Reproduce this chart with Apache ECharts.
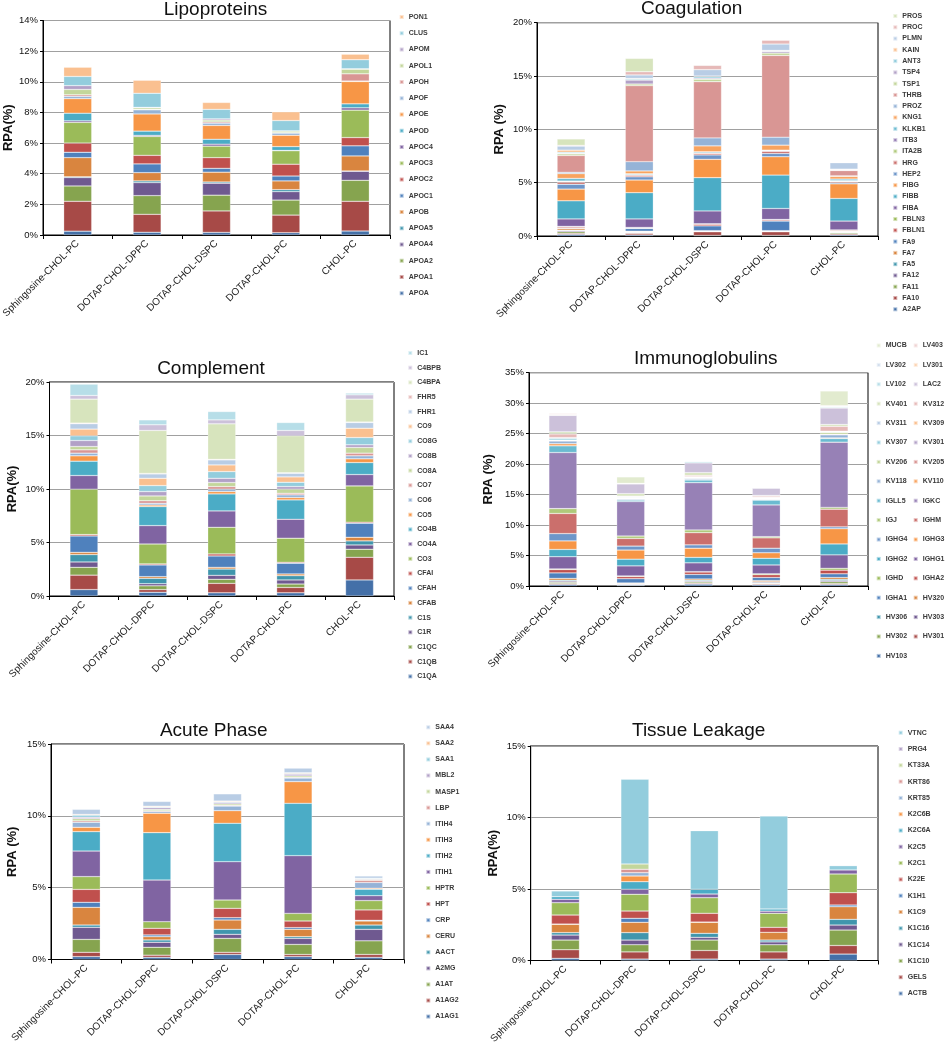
<!DOCTYPE html>
<html><head><meta charset="utf-8">
<script src="https://cdn.jsdelivr.net/npm/echarts@6/dist/echarts.min.js"></script>
<style>html,body{margin:0;padding:0;background:#fff}#c{width:949px;height:1050px}</style>
</head><body><div id="c"></div>
<script>
// ---------------- DATA ----------------
const categories = ['Sphingosine-CHOL-PC','DOTAP-CHOL-DPPC','DOTAP-CHOL-DSPC','DOTAP-CHOL-PC','CHOL-PC'];

// each row: one protein, values (% RPA) for the 5 formulations
const lipoNames = ['APOA','APOA1','APOA2','APOA4','APOA5','APOB','APOC1','APOC2','APOC3','APOC4','APOD','APOE','APOF','APOH','APOL1','APOM','CLUS','PON1'];
const lipoValues = [
  [0.25,0.18,0.17,0.15,0.26],[1.95,1.17,1.40,1.15,1.94],[1.00,1.22,1.03,0.98,1.37],[0.55,0.85,0.78,0.55,0.59],
  [0.05,0.11,0.08,0.13,0.02],[1.25,0.54,0.64,0.57,0.98],[0.35,0.57,0.25,0.32,0.66],[0.60,0.56,0.70,0.77,0.54],
  [1.35,1.23,0.75,0.88,1.79],[0.10,0.07,0.13,0.02,0.15],[0.50,0.28,0.32,0.25,0.26],[0.95,1.12,0.90,0.74,1.46],
  [0.15,0.27,0.15,0.14,0.03],[0.10,0.03,0.08,0.03,0.47],[0.35,0.10,0.12,0.10,0.30],[0.25,0.03,0.08,0.02,0.03],
  [0.60,0.92,0.62,0.67,0.59],[0.60,0.85,0.45,0.57,0.36]
];

const coagNames = ['A2AP','FA10','FA11','FA12','FA5','FA7','FA9','FBLN1','FBLN3','FIBA','FIBB','FIBG','HEP2','HRG','ITA2B','ITB3','KLKB1','KNG1','PROZ','THRB','TSP1','TSP4','ANT3','KAIN','PLMN','PROC','PROS'];
const coagValues = [
  [0.15,0.10,0.05,0.05,0.10],[0.10,0.15,0.35,0.35,0.10],[0.15,0.05,0.02,0.02,0.10],[0.10,0.05,0.03,0.03,0.05],
  [0.05,0.05,0.02,0.02,0.05],[0.15,0.05,0.03,0.03,0.05],[0.05,0.25,0.45,0.90,0.02],[0.10,0.05,0.15,0.10,0.08],
  [0.05,0.05,0.05,0.05,0.02],[0.70,0.80,1.20,1.03,0.83],[1.70,2.46,3.12,3.13,2.12],[1.10,1.19,1.72,1.72,1.37],
  [0.45,0.30,0.41,0.31,0.10],[0.20,0.15,0.15,0.21,0.10],[0.05,0.03,0.03,0.03,0.05],[0.05,0.03,0.02,0.02,0.05],
  [0.25,0.08,0.10,0.05,0.15],[0.45,0.26,0.55,0.47,0.25],[0.12,0.87,0.75,0.75,0.05],[1.58,7.13,5.27,7.66,0.50],
  [0.15,0.15,0.23,0.22,0.02],[0.05,0.37,0.10,0.15,0.03],[0.10,0.10,0.15,0.05,0.03],[0.20,0.05,0.05,0.05,0.05],
  [0.38,0.33,0.60,0.60,0.60],[0.07,0.30,0.40,0.35,0.00],[0.60,1.25,0.05,0.00,0.00]
];

const complNames = ['C1QA','C1QB','C1QC','C1R','C1S','CFAB','CFAH','CFAI','CO3','CO4A','CO4B','CO5','CO6','CO7','CO8A','CO8B','CO8G','CO9','FHR1','FHR5','C4BPA','C4BPB','IC1'];
const complValues = [
  [0.60,0.35,0.30,0.30,1.50],[1.35,0.25,0.88,0.50,2.12],[0.73,0.35,0.38,0.32,0.75],[0.50,0.20,0.37,0.38,0.40],
  [0.69,0.50,0.59,0.40,0.38],[0.21,0.16,0.16,0.16,0.34],[1.53,1.09,1.06,1.00,1.31],[0.13,0.10,0.19,0.09,0.10],
  [4.24,1.86,2.49,2.25,3.39],[1.28,1.72,1.53,1.77,1.06],[1.34,1.78,1.59,1.81,1.12],[0.50,0.14,0.22,0.22,0.35],
  [0.25,0.16,0.22,0.25,0.28],[0.31,0.24,0.25,0.15,0.25],[0.31,0.45,0.37,0.38,0.53],[0.56,0.41,0.40,0.25,0.25],
  [0.44,0.56,0.63,0.40,0.68],[0.63,0.68,0.62,0.50,0.87],[0.50,0.41,0.47,0.34,0.53],[0.06,0.05,0.05,0.05,0.05],
  [2.24,4.01,3.32,3.45,2.14],[0.34,0.53,0.37,0.50,0.40],[1.06,0.46,0.78,0.74,0.16]
];

const igNames = ['HV103','HV301','HV302','HV303','HV306','HV320','IGHA1','IGHA2','IGHD','IGHG1','IGHG2','IGHG3','IGHG4','IGHM','IGJ','IGKC','IGLL5','KV110','KV118','KV205','KV206','KV301','KV307','KV309','KV311','KV312','KV401','LAC2','LV102','LV301','LV302','LV403','MUCB'];
const igValues = [
  [0.25,0.15,0.30,0.20,0.25],[0.15,0.05,0.15,0.15,0.15],[0.20,0.05,0.20,0.10,0.30],[0.20,0.10,0.15,0.15,0.20],
  [0.15,0.05,0.15,0.10,0.20],[0.30,0.10,0.20,0.20,0.30],[0.90,0.70,0.75,0.50,0.60],[0.55,0.35,0.40,0.45,0.60],
  [0.10,0.10,0.05,0.15,0.30],[2.00,1.65,1.45,1.45,2.20],[1.20,1.10,0.90,1.10,1.80],[1.40,1.50,1.50,0.90,2.50],
  [1.20,0.65,0.55,0.75,0.30],[3.30,1.25,2.00,1.70,2.90],[0.80,0.40,0.45,0.20,0.30],[9.20,5.65,7.75,5.20,10.70],
  [1.10,0.25,0.45,0.80,0.60],[0.35,0.05,0.05,0.05,0.10],[0.45,0.15,0.20,0.10,0.50],[0.05,0.05,0.05,0.05,0.10],
  [0.05,0.05,0.05,0.05,0.30],[0.05,0.05,0.05,0.05,0.05],[0.30,0.10,0.05,0.05,0.05],[0.05,0.05,0.05,0.05,0.05],
  [0.05,0.05,0.05,0.05,0.05],[0.60,0.10,0.20,0.20,0.80],[0.35,0.40,0.45,0.10,0.30],[2.70,1.60,1.60,1.20,2.70],
  [0.05,0.05,0.20,0.05,0.15],[0.05,0.00,0.00,0.00,0.05],[0.05,0.00,0.00,0.00,0.10],[0.15,0.05,0.00,0.00,0.10],
  [0.00,1.05,0.00,0.00,2.40]
];

const acuteNames = ['A1AG1','A1AG2','A1AT','A2MG','AACT','CERU','CRP','HPT','HPTR','ITIH1','ITIH2','ITIH3','ITIH4','LBP','MASP1','MBL2','SAA1','SAA2','SAA4'];
const acuteValues = [
  [0.20,0.15,0.35,0.20,0.15],[0.30,0.15,0.15,0.15,0.20],[0.90,0.55,0.97,0.70,0.95],[0.84,0.35,0.28,0.42,0.80],
  [0.16,0.16,0.35,0.12,0.30],[1.23,0.23,0.65,0.51,0.28],[0.35,0.12,0.16,0.12,0.05],[0.90,0.46,0.65,0.46,0.72],
  [0.89,0.46,0.58,0.53,0.65],[1.78,2.90,2.67,4.02,0.34],[1.35,3.30,2.67,3.64,0.45],[0.30,1.35,0.88,1.51,0.07],
  [0.35,0.12,0.32,0.25,0.40],[0.10,0.05,0.05,0.05,0.15],[0.15,0.10,0.10,0.10,0.05],[0.10,0.12,0.10,0.12,0.05],
  [0.15,0.05,0.05,0.05,0.05],[0.05,0.05,0.05,0.05,0.00],[0.35,0.33,0.50,0.32,0.15]
];

const tissueNames = ['ACTB','GELS','K1C10','K1C14','K1C16','K1C9','K1H1','K22E','K2C1','K2C5','K2C6A','K2C6B','KRT85','KRT86','KT33A','PRG4','VTNC'];
const tissueValues = [
  [0.15,0.10,0.10,0.10,0.45],[0.60,0.50,0.60,0.50,0.60],[0.68,0.50,0.73,0.50,1.08],[0.35,0.33,0.19,0.20,0.35],
  [0.17,0.52,0.28,0.13,0.40],[0.58,0.72,0.77,0.54,0.88],[0.02,0.28,0.02,0.00,0.12],[0.63,0.51,0.61,0.35,0.86],
  [0.86,1.17,1.09,0.98,1.31],[0.24,0.35,0.26,0.15,0.28],[0.18,0.53,0.33,0.15,0.00],[0.00,0.40,0.00,0.00,0.00],
  [0.00,0.23,0.00,0.00,0.00],[0.00,0.24,0.00,0.00,0.00],[0.00,0.37,0.00,0.00,0.00],[0.00,0.00,0.00,0.00,0.00],
  [0.40,5.92,4.10,6.50,0.30]
];

// ---------------- STYLE ----------------
const FONT = '"Liberation Sans", Arial, Helvetica, sans-serif';
const DARK = ['#4470A8','#A74A47','#86A44F','#6F5990','#4096AD','#D9853F'];
const BASE = ['#4F81BD','#C0504D','#9BBB59','#8064A2','#4BACC6','#F79646'];
const MID = ['#6E96C9','#CB6F6C','#AFC97A','#9781B6','#6BBBD1','#F8A35F'];
const LIGHT = ['#95B3D7','#D99694','#C3D69B','#B2A1C7','#93CDDD','#FAC090'];
const LIGHTER = ['#B9CDE5','#E6B9B8','#D7E4BD','#CCC1DA','#B7DEE8','#FCD5B5'];
const LIGHTEST = ['#D3DFEE','#EFD3D2','#E2EBCF','#DDD5E6','#CFE8EF','#FDE2CA'];
function pal(cycles, n) { const out = []; cycles.forEach(c => out.push(...c)); return out.slice(0, n); }

const panels = [
  { title:'Lipoproteins', names:lipoNames, values:lipoValues, colors:pal([DARK,BASE,LIGHT],18),
    g:[43,20.5,347,214.5], max:14, step:2, yName:'RPA(%)', ng:26, tx:215.5, ty:0,
    legLeft:[398.7], legTop:13, legSpace:16.25 },
  { title:'Coagulation', names:coagNames, values:coagValues, colors:pal([DARK,BASE,MID,LIGHT,LIGHTER],27),
    g:[537,22.7,341,213.3], max:20, step:5, yName:'RPA (%)', ng:31, tx:691.7, ty:-1,
    legLeft:[892.3], legTop:12, legSpace:11.28 },
  { title:'Complement', names:complNames, values:complValues, colors:pal([DARK,BASE,LIGHT,LIGHTER],23),
    g:[49.5,382,344.5,214], max:20, step:5, yName:'RPA(%)', ng:31, tx:211, ty:359,
    legLeft:[407.3], legTop:349, legSpace:14.7 },
  { title:'Immunoglobulins', names:igNames, values:igValues, colors:pal([DARK,BASE,MID,LIGHT,LIGHTER,LIGHTEST],33),
    g:[529,372.7,339,213.3], max:35, step:5, yName:'RPA (%)', ng:34, tx:705.8, ty:349,
    legLeft:[875.7,912.7], legTop:341.5, legSpace:19.4 },
  { title:'Acute Phase', names:acuteNames, values:acuteValues, colors:pal([DARK,BASE,LIGHT,LIGHTER],19),
    g:[51,744,353,215.5], max:15, step:5, yName:'RPA (%)', ng:32, tx:213.8, ty:721,
    legLeft:[425.3], legTop:723.3, legSpace:16.07 },
  { title:'Tissue Leakage', names:tissueNames, values:tissueValues, colors:pal([DARK,BASE,LIGHT],17),
    g:[530.7,746,347.3,214.5], max:15, step:5, yName:'RPA(%)', ng:31, tx:698.7, ty:721,
    legLeft:[897.7], legTop:728.7, legSpace:16.3 }
];

const LEG_LH = 8;
const option = { animation:false, backgroundColor:'#fff', title:[], grid:[], xAxis:[], yAxis:[], legend:[], series:[] };

panels.forEach((p, i) => {
  option.title.push({ text:p.title, left:p.tx, top:p.ty, textAlign:'center', padding:0,
    textStyle:{ fontFamily:FONT, fontSize:19, fontWeight:'normal', color:'#111' } });
  option.grid.push({ left:p.g[0], top:p.g[1], width:p.g[2], height:p.g[3], show:true,
    borderColor:'#000', borderWidth:1, containLabel:false, outerBoundsMode:'none' });
  option.xAxis.push({ type:'category', gridIndex:i, data:categories,
    axisLine:{ lineStyle:{ color:'#000', width:1 } },
    axisTick:{ show:true, length:4, lineStyle:{ color:'#000' } },
    axisLabel:{ rotate:45, interval:0, fontSize:10, color:'#222', fontFamily:FONT, margin:7 } });
  option.yAxis.push({ type:'value', gridIndex:i, min:0, max:p.max, interval:p.step,
    name:p.yName, nameLocation:'middle', nameGap:p.ng, nameRotate:90,
    nameTextStyle:{ fontFamily:FONT, fontSize:13, fontWeight:'bold', color:'#111' },
    axisLine:{ show:true, lineStyle:{ color:'#000', width:1 } },
    axisTick:{ show:true, length:3, lineStyle:{ color:'#000' } },
    axisLabel:{ formatter:'{value}%', fontSize:9.5, color:'#111', fontFamily:FONT, margin:5 },
    splitLine:{ show:true, lineStyle:{ color:'#a0a0a0', width:1 } } });
  p.names.forEach((nm, k) => {
    option.series.push({ type:'bar', name:nm, xAxisIndex:i, yAxisIndex:i, stack:'panel' + i, barWidth:28,
      data:p.values[k].map(v => v > 0 ? v : '-'),
      itemStyle:{ color:p.colors[k], borderColor:'rgba(255,255,255,0.55)', borderWidth:0.5 },
      emphasis:{ disabled:true } });
  });
  const rev = p.names.slice().reverse();
  const nCols = p.legLeft.length;
  p.legLeft.forEach((lx, c) => {
    option.legend.push({ orient:'vertical', left:lx, top:p.legTop, padding:0,
      itemGap:p.legSpace - LEG_LH, itemWidth:4, itemHeight:4, icon:'rect', selectedMode:false,
      data:rev.filter((_, j) => j % nCols === c),
      textStyle:{ fontFamily:FONT, fontSize:7, fontWeight:'bold', color:'#3a3a3a', lineHeight:LEG_LH } });
  });
});

const chart = echarts.init(document.getElementById('c'), null, { renderer:'canvas' });
chart.setOption(option);
</script></body></html>
